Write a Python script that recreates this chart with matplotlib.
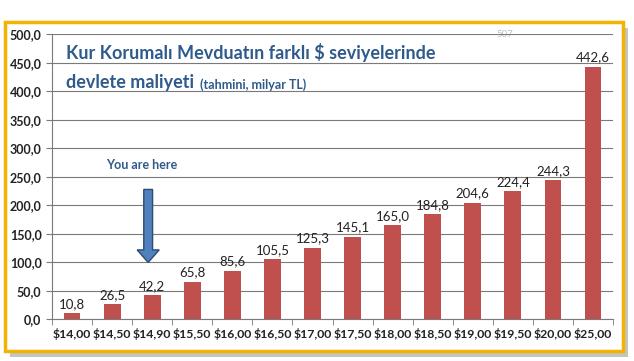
import matplotlib.pyplot as plt
from matplotlib.patches import Rectangle, FancyArrow
from matplotlib.ticker import FuncFormatter, FixedLocator

kurlar = ['$14,00', '$14,50', '$14,90', '$15,50', '$16,00', '$16,50', '$17,00',
          '$17,50', '$18,00', '$18,50', '$19,00', '$19,50', '$20,00', '$25,00']
maliyet = [10.8, 26.5, 42.2, 65.8, 85.6, 105.5, 125.3,
           145.1, 165.0, 184.8, 204.6, 224.4, 244.3, 442.6]
y_ticks = [0, 50, 100, 150, 200, 250, 300, 350, 400, 450, 500]

plt.rcParams['font.family'] = ['Lato', 'DejaVu Sans']

def virgul(v, decimals=1):
    return f'{v:.{decimals}f}'.replace('.', ',')

fig = plt.figure(figsize=(6.34, 3.61), dpi=100)
fig.patch.set_facecolor('white')

# frame with shadow
fig.add_artist(Rectangle((0.016, 0.012), 0.975, 0.91, transform=fig.transFigure,
                         facecolor='#c4c4c4', edgecolor='none', zorder=0))
fig.add_artist(Rectangle((0.008, 0.028), 0.975, 0.91, transform=fig.transFigure,
                         facecolor='white', edgecolor='#f2b400', linewidth=2.5, zorder=0))

ax = fig.add_axes([0.082, 0.115, 0.885, 0.79])
ax.set_facecolor('none')
x = range(len(kurlar))
bars = ax.bar(x, maliyet, width=0.42, color='#c0504d', zorder=3)
for xi, v in zip(x, maliyet):
    ax.text(xi, v + 6, virgul(v), ha='center', va='bottom', fontsize=9.5,
            color='#222222', zorder=4)

ax.set_ylim(0, 500)
ax.set_xlim(-0.5, len(kurlar) - 0.5)
ax.set_yticks(y_ticks)
ax.yaxis.set_major_formatter(FuncFormatter(lambda v, p: virgul(v)))
ax.grid(axis='y', color='#7a7a7a', linewidth=0.8, zorder=0)
ax.set_xticks(list(x))
ax.set_xticklabels(kurlar)
ax.xaxis.set_minor_locator(FixedLocator([i - 0.5 for i in range(len(kurlar) + 1)]))
ax.tick_params(axis='x', which='major', length=0, pad=6, labelsize=8.8,
               colors='#222222')
ax.tick_params(axis='x', which='minor', length=4, color='#7a7a7a')
ax.tick_params(axis='y', length=4, color='#7a7a7a', labelsize=9,
               colors='#222222')
for lab in ax.get_xticklabels() + ax.get_yticklabels():
    lab.set_fontweight('bold')
for s in ['top', 'right']:
    ax.spines[s].set_visible(False)
ax.spines['left'].set_color('#7a7a7a')
ax.spines['bottom'].set_color('#7a7a7a')

# title
ax.text(0.025, 0.935, 'Kur Korumalı Mevduatın farklı $ seviyelerinde',
        transform=ax.transAxes, fontsize=13, fontweight='bold',
        color='#2f5a8c', va='center', ha='left')
t2 = ax.text(0.025, 0.83, 'devlete maliyeti', transform=ax.transAxes,
             fontsize=13, fontweight='bold', color='#2f5a8c', va='center',
             ha='left')
ax.annotate('(tahmini, milyar TL)', xy=(1, 0.5), xycoords=t2,
            xytext=(4, -1), textcoords='offset points', fontsize=9,
            fontweight='bold', color='#2f5a8c', va='center', ha='left')

# faint stray label on the top gridline
ax.text(10.8, 500, '507', fontsize=7, color='#c0c0c0', ha='center',
        va='center', zorder=1)

# annotation
ax.text(1.75, 270, 'You are here', fontsize=9, fontweight='bold',
        color='#2f5a8c', ha='center', va='center')
ax.add_patch(FancyArrow(1.9, 228, 0, -128, width=0.22, head_width=0.55,
                        head_length=22, length_includes_head=True,
                        facecolor='#4f81bd', edgecolor='#2c4d75', linewidth=1,
                        zorder=5))

fig.savefig('out.png', dpi=100)
